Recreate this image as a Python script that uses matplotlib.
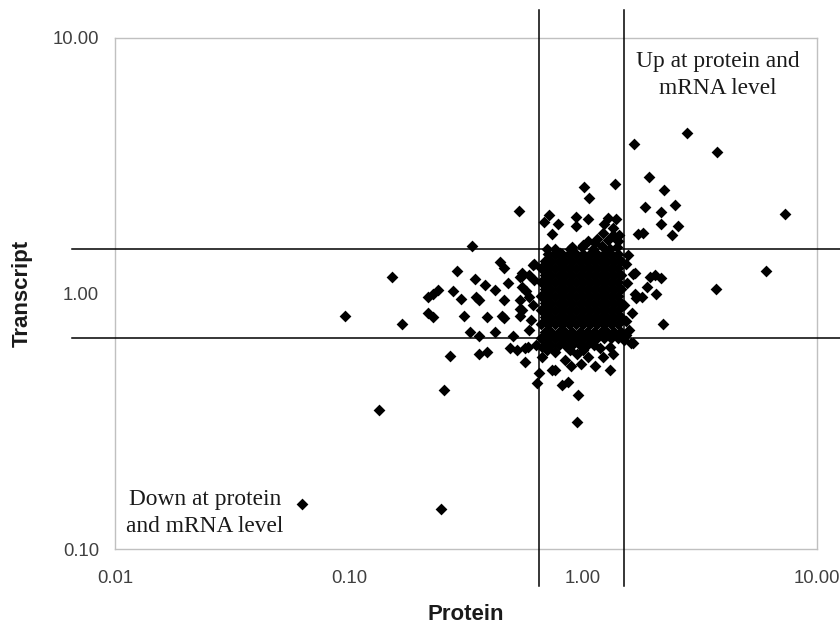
import matplotlib
matplotlib.use("Agg")
import matplotlib.pyplot as plt

plt.rcParams['font.family'] = ['Liberation Sans', 'DejaVu Sans']

# fold-change cut-offs
protein_cut = [0.65, 1.5]
transcript_cut = [0.667, 1.5]

x_ticks = [0.01, 0.1, 1, 10]
x_tick_labels = ["0.01", "0.10", "1.00", "10.00"]
y_ticks = [0.1, 1, 10]
y_tick_labels = ["0.10", "1.00", "10.00"]

# (protein ratio, transcript ratio) - scattered genes
outer_points = [
    (0.063, 0.15), (0.096, 0.82), (0.134, 0.35), (0.153, 1.16), (0.168, 0.76),
    (0.247, 0.144), (0.254, 0.42), (0.27, 0.57), (0.336, 1.53), (0.535, 2.10),
    (2.79, 4.26), (3.75, 3.59), (1.66, 3.84), (7.33, 2.05), (6.05, 1.22),
    (3.69, 1.04), (2.2, 0.757),
    (1.92, 2.87), (2.22, 2.54), (2.48, 2.22), (1.84, 2.19), (2.15, 2.08),
    (2.15, 1.87), (1.81, 1.72), (1.72, 1.71), (2.39, 1.69), (2.55, 1.83),
    (1.37, 2.68), (1.01, 2.60), (1.06, 2.37), (0.716, 2.03), (0.684, 1.91),
    (0.78, 1.87), (0.74, 1.71), (0.93, 2.0), (0.93, 1.84), (1.05, 1.95),
    (1.28, 1.97), (1.39, 1.96), (1.23, 1.87), (1.34, 1.80),
    (1.64, 1.19), (1.94, 1.16), (2.15, 1.15), (2.05, 1.0), (1.67, 1.0),
    (1.78, 0.97), (1.64, 0.64),
    (0.955, 0.40), (0.94, 0.315), (1.31, 0.50), (0.634, 0.445),
    (0.218, 0.97), (0.229, 1.0), (0.24, 1.03), (0.278, 1.02), (0.30, 0.95),
    (0.218, 0.84), (0.229, 0.81), (0.31, 0.82), (0.33, 0.71), (0.36, 0.68),
    (0.42, 0.71), (0.46, 0.80), (0.39, 0.81), (0.29, 1.23), (0.345, 1.14),
    (0.46, 1.26), (0.55, 1.17), (0.38, 1.08), (0.42, 1.03), (0.46, 0.94),
    (0.36, 0.94), (0.35, 0.97), (0.36, 0.58), (0.39, 0.59), (0.49, 0.61),
    (0.52, 0.60), (0.565, 0.54), (0.58, 0.62), (0.50, 0.68), (0.55, 0.86),
    (0.54, 0.94), (0.48, 1.1), (0.54, 1.16), (0.55, 1.06), (0.59, 0.97),
    (0.45, 0.82), (0.54, 0.82),
    (0.65, 0.49), (0.81, 0.44), (0.86, 0.45), (0.74, 0.50), (0.89, 0.52),
    (0.98, 0.53), (1.13, 0.52), (1.22, 0.565), (1.34, 0.58), (1.53, 0.69),
    (0.565, 0.61), (0.67, 0.565), (0.67, 0.62), (0.94, 0.58), (1.05, 0.565),
    (0.84, 0.55), (0.76, 0.50),
    (1.05, 1.61), (1.13, 1.57), (1.28, 1.62), (1.41, 1.60), (1.43, 1.69),
    (0.88, 1.50), (0.80, 1.44), (0.99, 1.52), (0.62, 1.31), (0.55, 1.20),
    (0.59, 1.18),
    (1.67, 1.20), (1.87, 1.06), (1.69, 0.96), (1.62, 0.84), (1.58, 0.72),
    (2.03, 1.18), (1.60, 0.64),
    (0.57, 1.02), (0.54, 0.87), (0.59, 0.72), (0.61, 0.90), (0.62, 1.13),
    (0.61, 1.29), (0.60, 0.79), (0.63, 0.63), (0.44, 1.33),
    (0.90, 1.52), (1.00, 1.55), (1.10, 1.50), (1.20, 1.54), (1.30, 1.50),
    (1.40, 1.52), (0.76, 1.50), (1.15, 1.64), (1.35, 1.70), (1.22, 1.72),
    (0.70, 1.50), (1.52, 1.30), (1.54, 1.10), (1.50, 0.90), (1.52, 0.78),
    (1.55, 1.42), (1.50, 0.66), (0.76, 0.59), (0.88, 0.60), (1.00, 0.60),
    (1.18, 0.61), (1.30, 0.62), (0.70, 0.60),
]

# dense centre of the distribution (unchanged genes)
core_points = [
    (0.71, 1.43), (0.76, 1.43), (0.81, 1.43), (0.87, 1.43), (0.93, 1.43), (1.00, 1.43),
    (1.07, 1.43), (1.15, 1.43), (1.23, 1.43), (1.32, 1.43), (1.41, 1.43),
    (0.69, 1.34), (0.73, 1.34), (0.79, 1.34), (0.84, 1.34), (0.90, 1.34), (0.97, 1.34),
    (1.04, 1.34), (1.11, 1.34), (1.19, 1.34), (1.27, 1.34), (1.36, 1.34), (1.46, 1.34),
    (0.66, 1.26), (0.71, 1.26), (0.76, 1.26), (0.81, 1.26), (0.87, 1.26), (0.93, 1.26),
    (1.00, 1.26), (1.07, 1.26), (1.15, 1.26), (1.23, 1.26), (1.32, 1.26), (1.41, 1.26),
    (0.69, 1.18), (0.73, 1.18), (0.79, 1.18), (0.84, 1.18), (0.90, 1.18), (0.97, 1.18),
    (1.04, 1.18), (1.11, 1.18), (1.19, 1.18), (1.27, 1.18), (1.36, 1.18), (1.46, 1.18),
    (0.66, 1.11), (0.71, 1.11), (0.76, 1.11), (0.81, 1.11), (0.87, 1.11), (0.93, 1.11),
    (1.00, 1.11), (1.07, 1.11), (1.15, 1.11), (1.23, 1.11), (1.32, 1.11), (1.41, 1.11),
    (0.69, 1.04), (0.73, 1.04), (0.79, 1.04), (0.84, 1.04), (0.90, 1.04), (0.97, 1.04),
    (1.04, 1.04), (1.11, 1.04), (1.19, 1.04), (1.27, 1.04), (1.36, 1.04), (1.46, 1.04),
    (0.66, 0.98), (0.71, 0.98), (0.76, 0.98), (0.81, 0.98), (0.87, 0.98), (0.93, 0.98),
    (1.00, 0.98), (1.07, 0.98), (1.15, 0.98), (1.23, 0.98), (1.32, 0.98), (1.41, 0.98),
    (0.69, 0.92), (0.73, 0.92), (0.79, 0.92), (0.84, 0.92), (0.90, 0.92), (0.97, 0.92),
    (1.04, 0.92), (1.11, 0.92), (1.19, 0.92), (1.27, 0.92), (1.36, 0.92), (1.46, 0.92),
    (0.66, 0.86), (0.71, 0.86), (0.76, 0.86), (0.81, 0.86), (0.87, 0.86), (0.93, 0.86),
    (1.00, 0.86), (1.07, 0.86), (1.15, 0.86), (1.23, 0.86), (1.32, 0.86), (1.41, 0.86),
    (0.69, 0.81), (0.73, 0.81), (0.79, 0.81), (0.84, 0.81), (0.90, 0.81), (0.97, 0.81),
    (1.04, 0.81), (1.11, 0.81), (1.19, 0.81), (1.27, 0.81), (1.36, 0.81), (1.46, 0.81),
    (0.66, 0.76), (0.71, 0.76), (0.76, 0.76), (0.81, 0.76), (0.87, 0.76), (0.93, 0.76),
    (1.00, 0.76), (1.07, 0.76), (1.15, 0.76), (1.23, 0.76), (1.32, 0.76), (1.41, 0.76),
    (0.69, 0.71), (0.73, 0.71), (0.79, 0.71), (0.84, 0.71), (0.90, 0.71), (0.97, 0.71),
    (1.04, 0.71), (1.11, 0.71), (1.19, 0.71), (1.27, 0.71), (1.36, 0.71), (1.46, 0.71),
    (0.66, 0.67), (0.71, 0.67), (0.76, 0.67), (0.81, 0.67), (0.87, 0.67), (0.93, 0.67),
    (1.00, 0.67), (1.07, 0.67), (1.15, 0.67), (1.23, 0.67), (1.32, 0.67), (1.41, 0.67),
    (0.69, 0.63), (0.73, 0.63), (0.79, 0.63), (0.84, 0.63), (0.90, 0.63), (0.97, 0.63),
    (1.04, 0.63), (1.11, 0.63),
]

protein, transcript = zip(*(outer_points + core_points))

fig = plt.figure(figsize=(8.4, 6.26), dpi=100)
ax = fig.add_axes([0.1369, 0.1230, 0.8357, 0.8163])

ax.scatter(protein, transcript, marker='D', s=36, c='black', linewidths=0, zorder=3)

for x in protein_cut:
    ax.axvline(x, ymin=-0.072, ymax=1.055, color='black', lw=1.1, clip_on=False, zorder=4)
for y in transcript_cut:
    ax.axhline(y, xmin=-0.061, xmax=1.033, color='black', lw=1.1, clip_on=False, zorder=4)

ax.set_xscale('log')
ax.set_yscale('log')
ax.set_xlim(0.01, 10)
ax.set_ylim(0.1, 10)
ax.set_xticks(x_ticks, x_tick_labels)
ax.set_yticks(y_ticks, y_tick_labels)
ax.minorticks_off()
ax.tick_params(axis='x', length=0, pad=15, labelsize=13.3, labelcolor='#404040')
ax.tick_params(axis='y', length=0, pad=11.5, labelsize=13.3, labelcolor='#404040')

for s in ax.spines.values():
    s.set_color('#c0c0c0')
    s.set_linewidth(1)

ax.set_xlabel("Protein", fontsize=16, fontweight='bold', color='#1a1a1a')
ax.set_ylabel("Transcript", fontsize=16, fontweight='bold', color='#1a1a1a')
ax.xaxis.set_label_coords(0.5, -0.108)
ax.yaxis.set_label_coords(-0.117, 0.5)

serif = ['Liberation Serif', 'DejaVu Serif']
ax.text(0.859, 0.928, "Up at protein and\nmRNA level", transform=ax.transAxes,
        ha='center', va='center', fontsize=16.8, family=serif, linespacing=1.38,
        color='#1a1a1a')
ax.text(0.128, 0.0705, "Down at protein\nand mRNA level", transform=ax.transAxes,
        ha='center', va='center', fontsize=16.8, family=serif, linespacing=1.38,
        color='#1a1a1a')

fig.savefig("out.png", dpi=100)
